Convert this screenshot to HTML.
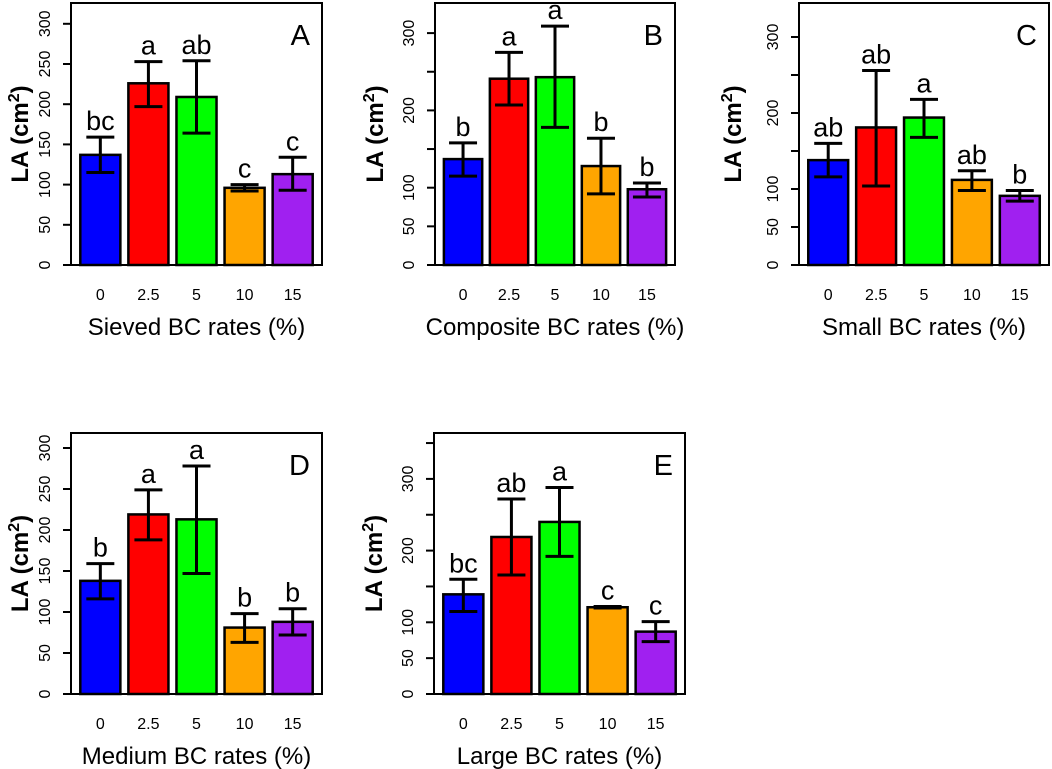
<!DOCTYPE html>
<html><head><meta charset="utf-8"><style>
html,body{margin:0;padding:0;background:#fff;}
svg{display:block;font-family:"Liberation Sans",Arial,sans-serif;}
</style></head><body>
<svg id="chart" width="1052" height="769" viewBox="0 0 1052 769"></svg>
<script>
const categories = ["0","2.5","5","10","15"];
const colors = ["#0000ff","#ff0000","#00ff00","#ffa500","#a020f0"];
const panelLetters = ["A","B","C","D","E"];
const xTitles = ["Sieved BC rates (%)","Composite BC rates (%)","Small BC rates (%)","Medium BC rates (%)","Large BC rates (%)"];
const meansA = [137,226,209,96,113];
const lowA = [115,197,164,92,93];
const highA = [159,253,254,100,134];
const lettersA = ["bc","a","ab","c","c"];
const meansB = [137,241,243,128,98];
const lowB = [115,207,178,92,88];
const highB = [158,275,309,164,106];
const lettersB = ["b","a","a","b","b"];
const meansC = [138,181,194,112,91];
const lowC = [116,104,168,98,84];
const highC = [160,256,218,124,98];
const lettersC = ["ab","ab","a","ab","b"];
const meansD = [138,219,213,81,88];
const lowD = [116,188,147,63,72];
const highD = [159,249,278,98,104];
const lettersD = ["b","a","a","b","b"];
const meansE = [139,219,240,121,87];
const lowE = [115,166,192,120,73];
const highE = [160,272,288,122,101];
const lettersE = ["bc","ab","a","c","c"];
const ticksFull = [0,50,100,150,200,250,300];
const labelsFull = ["0","50","100","150","200","250","300"];
const ticksE = [0,50,100,150,200,250,300,350];
const labelsSparse = ["0","50","100","","200","","300",""];

const NS="http://www.w3.org/2000/svg";
const svg=document.getElementById('chart');
function mk(tag,attrs,parent){const e=document.createElementNS(NS,tag);for(const k in attrs)e.setAttribute(k,attrs[k]);(parent||svg).appendChild(e);return e;}

const panels=[
 {l:71,r:322,t:3,y0:265,s:0.804,m:meansA,lo:lowA,hi:highA,let:lettersA,ticks:ticksFull,labs:labelsFull,yo:51},
 {l:435,r:675,t:3,y0:265,s:0.773,m:meansB,lo:lowB,hi:highB,let:lettersB,ticks:ticksFull,labs:labelsSparse,yo:60},
 {l:799,r:1049,t:3,y0:265,s:0.76,m:meansC,lo:lowC,hi:highC,let:lettersC,ticks:ticksFull,labs:labelsSparse,yo:66},
 {l:71,r:322,t:433,y0:694,s:0.82,m:meansD,lo:lowD,hi:highD,let:lettersD,ticks:ticksFull,labs:labelsFull,yo:51},
 {l:434,r:685,t:433,y0:694,s:0.717,m:meansE,lo:lowE,hi:highE,let:lettersE,ticks:ticksE,labs:labelsSparse,yo:60}
];
panels.forEach((p,pi)=>{
  const g=mk('g',{});
  
  
  const yS=v=>p.y0-v*p.s;
  const u=(p.r-p.l)/6.264;
  const xS=i=>p.l+(0.232+1.2*i)*u;
  p.m.forEach((v,i)=>{
    const b=mk('rect',{x:xS(i),y:yS(v),width:u,height:p.y0-yS(v),fill:colors[i],stroke:'#000','stroke-width':2.5},g);
    
    
    const cx=xS(i)+u/2;
    const eb=mk('path',{d:`M${cx},${yS(p.lo[i])}V${yS(p.hi[i])}M${cx-14},${yS(p.lo[i])}h28M${cx-14},${yS(p.hi[i])}h28`,stroke:'#000','stroke-width':3,fill:'none'},g);
    
    
    const lt=mk('text',{x:cx,y:yS(p.hi[i])-7,'text-anchor':'middle','font-size':27},g);
    lt.textContent=p.let[i];
    
    
    const xt=mk('text',{x:cx,y:p.y0+35,'text-anchor':'middle','font-size':16},g);
    xt.textContent=categories[i];
    
    
  });
  const fr=mk('rect',{x:p.l,y:p.t,width:p.r-p.l,height:p.y0-p.t,fill:'none',stroke:'#000','stroke-width':2},g);
  
  
  p.ticks.forEach((t,k)=>{
    const y=yS(t);
    const tk=mk('line',{x1:p.l-8,x2:p.l,y1:y,y2:y,stroke:'#000','stroke-width':2},g);
    
    
    if(p.labs[k]){
      const tl=mk('text',{x:0,y:0,transform:`translate(${p.l-21},${y}) rotate(-90)`,'text-anchor':'middle','font-size':16},g);
      tl.textContent=p.labs[k];
      
      
    }
  });
  const yt=mk('text',{x:0,y:0,transform:`translate(${p.l-p.yo+8},${(p.t+p.y0)/2}) rotate(-90)`,'text-anchor':'middle','font-size':24,'font-weight':'bold'},g);
  yt.innerHTML='LA (cm<tspan dy="-9" font-size="16">2</tspan><tspan dy="9">)</tspan>';
  
  
  const xtt=mk('text',{x:(p.l+p.r)/2,y:p.y0+70,'text-anchor':'middle','font-size':24},g);
  xtt.textContent=xTitles[pi];
  
  
  const pl=mk('text',{x:p.r-12,y:p.t+42,'text-anchor':'end','font-size':29},g);
  pl.textContent=panelLetters[pi];
  
  
});
</script>
</body></html>
